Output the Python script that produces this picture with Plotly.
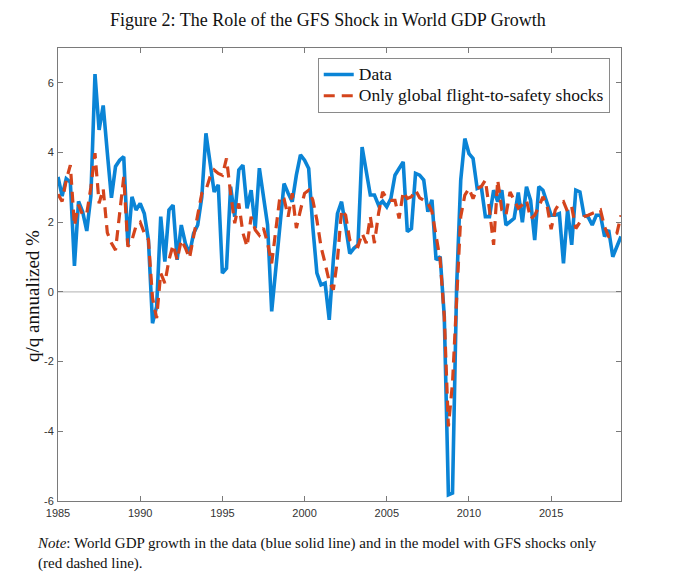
import plotly.graph_objects as go

# Quarterly data, 1985Q1 - 2019Q2
start_year = 1985
n_quarters = 138
dates = [start_year + q / 4 for q in range(n_quarters)]

data_growth = [
    3.30, 2.75, 3.25, 3.15, 0.75, 2.60, 2.30, 1.75, 2.75, 6.25,
    4.65, 5.35, 4.00, 2.70, 3.60, 3.78, 3.88, 1.35, 2.73, 2.35,
    2.54, 2.25, 1.50, -0.90, -0.42, 2.16, 0.87, 2.35, 2.49, 0.92,
    1.92, 1.39, 1.10, 1.68, 1.92, 2.73, 4.55, 3.69, 2.87, 3.07,
    0.54, 0.68, 3.02, 2.16, 3.50, 3.64, 2.40, 2.92, 1.83, 3.55,
    2.73, 1.92, -0.56, 0.73, 2.06, 3.11, 2.83, 2.59, 3.35, 3.93,
    3.78, 3.54, 1.87, 0.54, 0.20, 0.25, -0.80, 0.92, 2.25, 2.59,
    1.87, 1.10, 1.25, 1.35, 4.16, 3.45, 2.78, 2.78, 2.49, 2.60,
    2.44, 2.68, 3.35, 3.54, 3.73, 1.73, 1.82, 3.40, 3.35, 3.21,
    2.30, 2.64, 0.92, 1.01, -0.71, -5.82, -5.77, 0.15, 3.21, 4.40,
    3.97, 3.83, 2.97, 3.02, 2.16, 2.16, 2.92, 2.59, 2.92, 1.92,
    2.01, 2.11, 2.85, 2.00, 3.02, 2.63, 1.49, 3.02, 2.92, 2.54,
    2.20, 2.20, 2.25, 0.82, 2.35, 1.35, 2.92, 2.87, 2.20, 2.15,
    1.92, 2.20, 2.20, 1.59, 1.78, 1.01, 1.30, 1.59,
]

gfs_only = [
    2.80, 2.60, 3.20, 3.64, 1.90, 2.50, 2.20, 2.25, 3.00, 3.98,
    2.54, 2.96, 1.70, 1.40, 1.20, 2.16, 3.30, 1.30, 1.49, 1.90,
    2.00, 1.69, 1.50, -0.17, -0.75, 0.54, 0.25, 0.92, 1.35, 0.92,
    1.49, 1.26, 0.97, 1.59, 2.25, 2.83, 2.92, 3.30, 3.50, 3.40,
    3.35, 3.83, 2.83, 1.97, 2.54, 1.69, 1.30, 2.16, 1.78, 1.63,
    1.83, 1.40, 0.82, 1.80, 2.73, 2.68, 2.16, 2.83, 1.83, 2.35,
    2.83, 2.92, 2.64, 2.06, 1.30, 0.82, 0.30, 0.06, 0.92, 2.35,
    2.20, 1.49, 1.35, 1.30, 1.68, 1.40, 2.16, 1.40, 2.25, 2.87,
    2.68, 2.63, 2.63, 2.11, 2.87, 2.68, 2.73, 2.92, 2.70, 2.63,
    2.55, 2.30, 1.60, 0.92, -0.71, -3.86, -2.61, -0.23, 2.16, 2.78,
    2.97, 2.68, 2.97, 3.02, 3.21, 2.35, 1.35, 3.21, 2.35, 2.20,
    2.87, 2.63, 2.40, 2.50, 2.63, 2.10, 2.20, 2.44, 2.73, 2.49,
    1.80, 2.35, 2.54, 2.59, 2.30, 2.44, 1.82, 2.00, 2.16, 2.20,
    2.25, 2.30, 2.35, 1.87, 1.59, 1.60, 1.68, 2.20,
]

series_names = ["Data", "Only global flight-to-safety shocks"]

x_tickvals = [1985, 1990, 1995, 2000, 2005, 2010, 2015]
x_ticktext = ["1985", "1990", "1995", "2000", "2005", "2010", "2015"]
y_tickvals = [-6, -4, -2, 0, 2, 4, 6]
y_ticktext = ["-6", "-4", "-2", "0", "2", "4", "6"]

serif = "Liberation Serif, Times New Roman, serif"
sans = "Liberation Sans, Arial, sans-serif"
axis_col = "#7a7a7a"


def legend_label(s):
    # larger glyphs inside a compact legend row
    return '<span style="font-size:17.5px">' + s + '</span>'


fig = go.Figure()
fig.add_trace(go.Scatter(
    x=dates, y=data_growth, mode="lines", name=legend_label(series_names[0]),
    line=dict(color="#0a84d6", width=3.6),
))
fig.add_trace(go.Scatter(
    x=dates, y=gfs_only, mode="lines", name=legend_label(series_names[1]),
    line=dict(color="#d4441c", width=3.2, dash="11px,7px"),
))

# page body adds an 8px margin, so the figure is 8px smaller and shifted
fig.update_layout(
    width=672, height=579,
    paper_bgcolor="white", plot_bgcolor="white",
    margin=dict(l=50, r=59, t=40, b=86),
    showlegend=True,
    legend=dict(
        x=0.98, y=0.978, xanchor="right", yanchor="top",
        bgcolor="white", bordercolor="#8a8a8a", borderwidth=1,
        font=dict(family=serif, size=14, color="#111"),
        tracegroupgap=0, itemwidth=30,
    ),
    annotations=[
        dict(text="Figure 2: The Role of the GFS Shock in World GDP Growth",
             xref="paper", yref="paper", x=(328 - 58) / 563, y=1 + (48 - 20) / 453,
             xanchor="center", yanchor="middle", showarrow=False,
             font=dict(family=serif, size=18, color="#111")),
        dict(text="q/q annualized %", textangle=-90,
             xref="paper", yref="paper", x=-(58 - 32) / 563, y=(501 - 296) / 453,
             xanchor="center", yanchor="middle", showarrow=False,
             font=dict(family=serif, size=19, color="#111")),
        dict(text="<i>Note</i>: World GDP growth in the data (blue solid line) and in the model with GFS shocks only<br>(red dashed line).",
             xref="paper", yref="paper", x=-(58 - 35) / 563, y=-(533 - 501) / 453,
             xanchor="left", yanchor="top", align="left", showarrow=False,
             font=dict(family=serif, size=15, color="#111")),
    ],
    shapes=[
        dict(type="line", xref="paper", yref="y", x0=0, x1=1, y0=0, y1=0,
             line=dict(color="#b0b0b0", width=1), layer="below"),
    ],
)

fig.update_xaxes(
    range=[dates[0], dates[-1]],
    tickvals=x_tickvals, ticktext=x_ticktext,
    ticks="inside", ticklen=5, tickcolor=axis_col,
    showline=True, linecolor=axis_col, linewidth=1, mirror="ticks",
    showgrid=False, zeroline=False, ticklabelstandoff=2,
    tickfont=dict(family=sans, size=11, color="#333"),
)
fig.update_yaxes(
    range=[-6, 7],
    tickvals=y_tickvals, ticktext=y_ticktext,
    ticks="inside", ticklen=5, tickcolor=axis_col,
    showline=True, linecolor=axis_col, linewidth=1, mirror="ticks",
    showgrid=False, zeroline=False, ticklabelstandoff=1,
    tickfont=dict(family=sans, size=11, color="#333"),
)

fig.write_html("out.html")
